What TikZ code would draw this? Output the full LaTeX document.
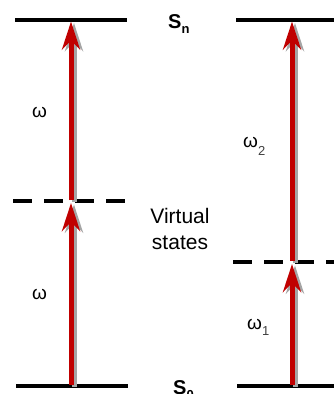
\documentclass[tikz,border=0pt]{standalone}
\usepackage{fontspec}
\setmainfont{Liberation Sans}
\usetikzlibrary{arrows.meta}
\definecolor{arrred}{RGB}{192,0,0}
\definecolor{shadowgray}{RGB}{165,165,165}
\begin{document}
\begin{tikzpicture}[x=1pt,y=-1pt,
  level/.style={line width=4pt,black},
  virt/.style={line width=4pt,black,dash pattern=on 19pt off 12pt},
  photon/.style={line width=5pt,arrred,-{Stealth[length=28pt,width=18pt,inset=9pt]}},
  photonshadow/.style={line width=5pt,shadowgray,-{Stealth[length=28pt,width=18pt,inset=9pt]}},
  lbl/.style={inner sep=0pt,anchor=base west,font=\fontsize{19}{19}\selectfont},
  state/.style={inner sep=0pt,anchor=base west,font=\fontsize{20}{20}\selectfont\bfseries}
]
\useasboundingbox (0,0) rectangle (334,394);
% level end points
\coordinate (LgA) at (16,385.5); \coordinate (LgB) at (128,385.5);
\coordinate (LeA) at (15,19.5);  \coordinate (LeB) at (127,19.5);
\coordinate (LvA) at (13,201.3); \coordinate (LvB) at (126,201.3);
\coordinate (RgA) at (237,385.5); \coordinate (RgB) at (340,385.5);
\coordinate (ReA) at (236,19.5);  \coordinate (ReB) at (340,19.5);
\coordinate (RvA) at (233,261.5); \coordinate (RvB) at (340,261.5);
% arrow points
\coordinate (a0) at (71,385); \coordinate (a1) at (71,203); \coordinate (a1s) at (71,200);
\coordinate (a2) at (71,21.5);
\coordinate (b0) at (292,385); \coordinate (b1) at (292,264); \coordinate (b1s) at (292,261);
\coordinate (b2) at (292,21.5);
% levels
\draw[level] (LgA) -- (LgB);
\draw[level] (LeA) -- (LeB);
\draw[virt] (LvA) -- (LvB);
\draw[level] (RgA) -- (RgB);
\draw[level] (ReA) -- (ReB);
\draw[virt] (RvA) -- (RvB);
% shadows
\draw[photonshadow] ([shift={(3,1.5)}]a0) -- ([shift={(3,1.5)}]a1);
\draw[photonshadow] ([shift={(3,1.5)}]a1s) -- ([shift={(3,1.5)}]a2);
\draw[photonshadow] ([shift={(3,1.5)}]b0) -- ([shift={(3,1.5)}]b1);
\draw[photonshadow] ([shift={(3,1.5)}]b1s) -- ([shift={(3,1.5)}]b2);
% arrows
\draw[photon] (a0) -- (a1);
\draw[photon] (a1s) -- (a2);
\draw[photon] (b0) -- (b1);
\draw[photon] (b1s) -- (b2);
% labels
\node[state] (sn) at (168,28) {S\raisebox{-5pt}{\fontsize{13}{13}\selectfont n}};
\node[state] (s0) at (173,394.5) {S\raisebox{-5pt}{\fontsize{13}{13}\selectfont 0}};
\node[lbl] (w1) at (32,117) {ω};
\node[lbl] (w2) at (32,299) {ω};
\node[lbl] (w3) at (243,147) {ω\raisebox{-8pt}{\fontsize{13}{13}\selectfont\color{black!75}2}};
\node[lbl] (w4) at (247,329) {ω\raisebox{-6pt}{\fontsize{13}{13}\selectfont\color{black!75}1}};
\node[inner sep=0pt,align=center,font=\fontsize{21}{26}\selectfont] (vs) at (180,229) {Virtual\\states};
\end{tikzpicture}
\end{document}
